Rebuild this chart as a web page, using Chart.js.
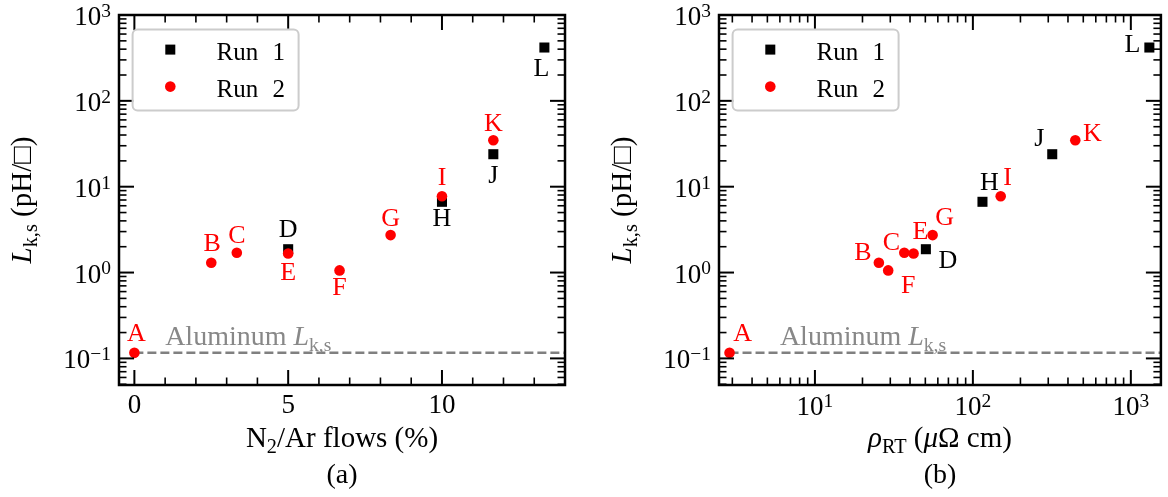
<!DOCTYPE html>
<html>
<head>
<meta charset="utf-8">
<script src="https://cdn.jsdelivr.net/npm/chart.js@4.4.0/dist/chart.umd.min.js"></script>
<style>
  html, body { margin: 0; padding: 0; background: #fff; }
  #wrap { position: relative; width: 1168px; height: 497px; }
  canvas { position: absolute; top: 0; }
</style>
</head>
<body>
<div id="wrap">
  <canvas id="chartA" width="584" height="497" style="left:0"></canvas>
  <canvas id="chartB" width="584" height="497" style="left:584px"></canvas>
</div>
<script>
// samples
const run1Labels = ['D', 'H', 'J', 'L'];
const run1Flow = [5, 10, 11.67, 13.33];
const run1Rho = [50.4, 115, 318, 1310];
const run1Lks = [1.87, 6.67, 23.9, 418];

const run2Labels = ['A', 'B', 'C', 'E', 'F', 'G', 'I', 'K'];
const run2Flow = [0, 2.5, 3.33, 5, 6.67, 8.33, 10, 11.67];
const run2Rho = [2.88, 25.4, 36.8, 42.1, 29.1, 55.6, 150, 445];
const run2Lks = [0.116, 1.30, 1.70, 1.67, 1.06, 2.73, 7.73, 34.8];

const aluminumLks = 0.116;

// ticks
const yTickExps = [-1, 0, 1, 2, 3];
const flowTicks = [0, 5, 10];
const rhoTickExps = [1, 2, 3];

// axis ranges
const yMin = 0.049, yMax = 1000;
const flowMin = -0.5, flowMax = 14;
const rhoMin = 2.47, rhoMax = 1550;

// where each letter sits relative to its marker (px)
const offsetsA = {A: [2, -20], B: [1, -20], C: [0, -18], D: [0, -21], E: [0, 18], F: [0, 16],
                  G: [0, -18], H: [0, 16], I: [0, -20], J: [0, 20], K: [0, -18], L: [-3, 20]};
const offsetsB = {A: [13, -20], B: [-16, -11], C: [-13, -11], D: [22, 10], E: [7, -23], F: [20, 14],
                  G: [12, -19], H: [7, -20], I: [7, -20], J: [-13, -17], K: [17, -8], L: [-17, -4]};

const FONT = '"Liberation Serif", "Times New Roman", serif';

function setFont(ctx, size, italic) {
  ctx.font = (italic ? 'italic ' : '') + size + 'px ' + FONT;
}

// parts: [{t, sub, sup, it}]
function drawRich(ctx, parts, x, y, size, align, supScale) {
  const ss = supScale || 0.7;
  let w = 0;
  const items = parts.map(p => {
    const s = (p.sub || p.sup) ? size * ss : size;
    setFont(ctx, s, p.it);
    const pw = ctx.measureText(p.t).width;
    w += pw;
    return {p, s, pw};
  });
  let cx = align === 'center' ? x - w / 2 : align === 'right' ? x - w : x;
  ctx.textAlign = 'left';
  ctx.textBaseline = 'alphabetic';
  items.forEach(({p, s, pw}) => {
    setFont(ctx, s, p.it);
    const dy = p.sup ? -size * 0.3 : p.sub ? size * 0.22 : 0;
    ctx.fillText(p.t, cx, y + dy);
    cx += pw;
  });
}

function minorLog(min, max) {
  const out = [];
  for (let e = Math.floor(Math.log10(min)); e <= Math.ceil(Math.log10(max)); e++) {
    for (let m = 2; m <= 9; m++) {
      const v = m * Math.pow(10, e);
      if (v > min && v < max) out.push(v);
    }
  }
  return out;
}

function line(ctx, x1, y1, x2, y2) {
  ctx.beginPath(); ctx.moveTo(x1, y1); ctx.lineTo(x2, y2); ctx.stroke();
}

function panelPlugin(p) {
  return {
    id: 'panel',
    afterDatasetsDraw(chart) {
      const ctx = chart.ctx;
      ctx.save();
      [[0, '#000000', run1Labels], [1, '#ff0000', run2Labels]].forEach(([di, col, labs]) => {
        chart.getDatasetMeta(di).data.forEach((el, i) => {
          const o = p.offsets[labs[i]];
          ctx.fillStyle = col;
          drawRich(ctx, [{t: labs[i]}], el.x + o[0], el.y + o[1] + 8.6, 26, 'center');
        });
      });
      ctx.restore();
    },
    afterDraw(chart) {
      const ctx = chart.ctx;
      const a = chart.chartArea;
      const xs = chart.scales.x, ys = chart.scales.y;
      ctx.save();
      ctx.strokeStyle = '#000';

      // y ticks both sides
      const yMaj = yTickExps.map(e => Math.pow(10, e));
      ctx.lineWidth = 1.6;
      minorLog(yMin, yMax).forEach(v => {
        const py = ys.getPixelForValue(v);
        line(ctx, a.left, py, a.left + 7.5, py);
        line(ctx, a.right, py, a.right - 7.5, py);
      });
      ctx.lineWidth = 2;
      yMaj.forEach(v => {
        const py = ys.getPixelForValue(v);
        line(ctx, a.left, py, a.left + 15, py);
        line(ctx, a.right, py, a.right - 15, py);
      });

      // x ticks top and bottom
      ctx.lineWidth = 1.6;
      p.xMinors.forEach(v => {
        const px = xs.getPixelForValue(v);
        line(ctx, px, a.bottom, px, a.bottom - 7.5);
        line(ctx, px, a.top, px, a.top + 7.5);
      });
      ctx.lineWidth = 2;
      p.xMajors.forEach(v => {
        const px = xs.getPixelForValue(v);
        line(ctx, px, a.bottom, px, a.bottom - 15);
        line(ctx, px, a.top, px, a.top + 15);
      });

      // frame
      ctx.lineWidth = 2.5;
      ctx.strokeRect(a.left, a.top, a.right - a.left, a.bottom - a.top);

      // tick labels
      ctx.fillStyle = '#000';
      yTickExps.forEach(e => {
        const py = ys.getPixelForValue(Math.pow(10, e));
        drawRich(ctx, [{t: '10'}, {t: e < 0 ? '\u2212' + (-e) : String(e), sup: true}],
                 a.left - 8, py + 10, 27, 'right', 0.72);
      });
      p.xMajors.forEach((v, i) => {
        drawRich(ctx, p.xTickParts[i], xs.getPixelForValue(v), a.bottom + p.xLabelDrop, 27, 'center', 0.72);
      });

      // axis titles and caption
      const cx = (a.left + a.right) / 2;
      drawRich(ctx, p.xTitle, cx, 447, 29, 'center');
      drawRich(ctx, [{t: p.caption}], cx, 483, 28, 'center');
      ctx.save();
      ctx.translate(a.left - 88, (a.top + a.bottom) / 2);
      ctx.rotate(-Math.PI / 2);
      drawRich(ctx, [{t: 'L', it: true}, {t: 'k,s', sub: true}, {t: ' (pH/\u25A1)'}], 0, 0, 29, 'center');
      ctx.restore();

      // aluminum note
      ctx.fillStyle = '#888888';
      drawRich(ctx, [{t: 'Aluminum '}, {t: 'L', it: true}, {t: 'k,s', sub: true}],
               xs.getPixelForValue(p.alPos[0]), ys.getPixelForValue(p.alPos[1]), 28, 'left');

      // legend
      const lx = a.left + 13.6, ly = a.top + 14.6;
      ctx.beginPath();
      ctx.roundRect(lx, ly, 166, 81, 5);
      ctx.fillStyle = 'rgba(255,255,255,0.8)';
      ctx.fill();
      ctx.strokeStyle = '#cccccc';
      ctx.lineWidth = 2;
      ctx.stroke();
      ctx.fillStyle = '#000';
      ctx.fillRect(lx + 37.7 - 5, ly + 20 - 5, 10, 10);
      ctx.fillStyle = '#ff0000';
      ctx.beginPath();
      ctx.arc(lx + 37.7, ly + 57, 5.3, 0, Math.PI * 2);
      ctx.fill();
      ctx.fillStyle = '#000';
      ctx.wordSpacing = '8px';
      drawRich(ctx, [{t: 'Run 1'}], lx + 84, ly + 30, 25, 'left');
      drawRich(ctx, [{t: 'Run 2'}], lx + 84, ly + 67, 25, 'left');
      ctx.restore();
    }
  };
}

function makeChart(id, xType, xMin, xMax, run1X, run2X, padding, p) {
  new Chart(document.getElementById(id), {
    type: 'scatter',
    data: {
      datasets: [
        {
          label: 'Run 1',
          data: run1X.map((x, i) => ({x: x, y: run1Lks[i]})),
          pointStyle: 'rect', pointRadius: 7.1, backgroundColor: '#000000',
          borderWidth: 0, order: 2
        },
        {
          label: 'Run 2',
          data: run2X.map((x, i) => ({x: x, y: run2Lks[i]})),
          pointStyle: 'circle', pointRadius: 5.3, backgroundColor: '#ff0000',
          borderWidth: 0, order: 1
        },
        {
          label: 'Aluminum',
          type: 'line',
          data: [{x: run2X[0], y: aluminumLks}, {x: xMax, y: aluminumLks}],
          showLine: true, borderColor: '#808080', borderWidth: 2.5, borderDash: [9, 4],
          pointRadius: 0, order: 3
        }
      ]
    },
    options: {
      responsive: false,
      animation: false,
      events: [],
      clip: false,
      layout: {padding: padding},
      plugins: {legend: {display: false}, tooltip: {enabled: false}},
      scales: {
        x: {type: xType, min: xMin, max: xMax, display: false},
        y: {type: 'logarithmic', min: yMin, max: yMax, display: false}
      }
    },
    plugins: [panelPlugin(p)]
  });
}

const flowMinors = [];
for (let v = 1; v < 14; v++) if (!flowTicks.includes(v)) flowMinors.push(v);

makeChart('chartA', 'linear', flowMin, flowMax, run1Flow, run2Flow,
  {left: 119, right: 19, top: 15, bottom: 112},
  {
    xMajors: flowTicks,
    xMinors: flowMinors,
    xTickParts: flowTicks.map(v => [{t: String(v)}]),
    xLabelDrop: 28,
    xTitle: [{t: 'N'}, {t: '2', sub: true}, {t: '/Ar flows (%)'}],
    caption: '(a)',
    offsets: offsetsA,
    alPos: [1, 0.143]
  });

makeChart('chartB', 'logarithmic', rhoMin, rhoMax, run1Rho, run2Rho,
  {left: 135, right: 5, top: 15, bottom: 112},
  {
    xMajors: rhoTickExps.map(e => Math.pow(10, e)),
    xMinors: minorLog(rhoMin, rhoMax),
    xTickParts: rhoTickExps.map(e => [{t: '10'}, {t: String(e), sup: true}]),
    xLabelDrop: 30,
    xTitle: [{t: '\u03C1', it: true}, {t: 'RT', sub: true}, {t: ' ('}, {t: '\u03BC', it: true}, {t: '\u03A9 cm)'}],
    caption: '(b)',
    offsets: offsetsB,
    alPos: [6, 0.143]
  });
</script>
</body>
</html>
